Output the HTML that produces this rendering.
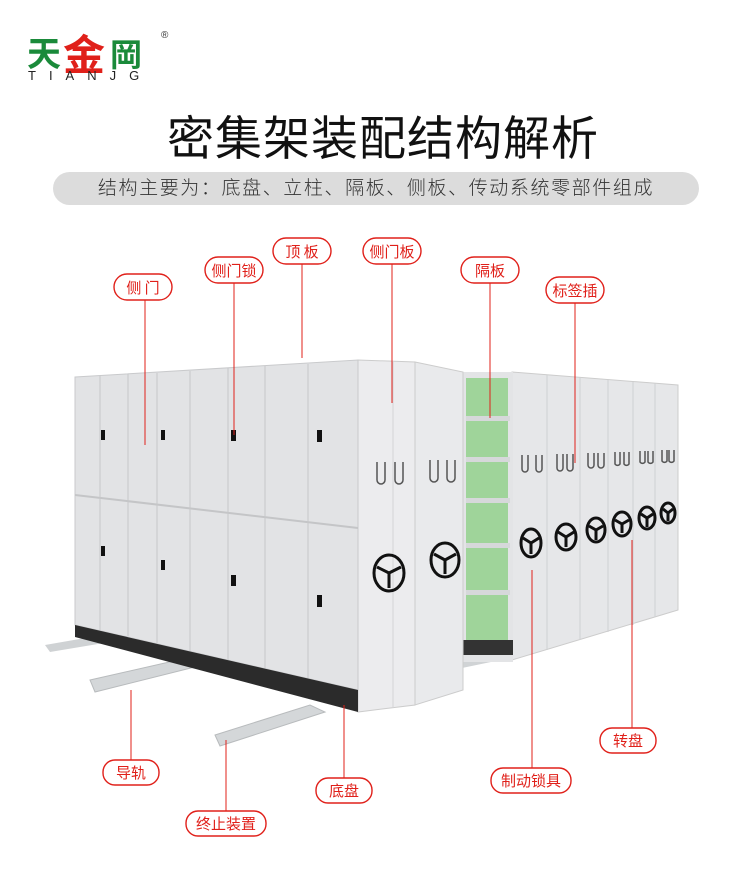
<!DOCTYPE html>
<html><head><meta charset="utf-8"><style>
html,body{margin:0;padding:0;background:#fff;}
body{width:750px;height:888px;position:relative;overflow:hidden;font-family:"Liberation Sans","Noto Sans CJK SC",sans-serif;}
.t{position:absolute;left:8px;width:750px;text-align:center;top:100px;font-size:47px;color:#111;letter-spacing:1px;font-family:"Liberation Sans","Noto Sans CJK SC",sans-serif;}
.sub{position:absolute;left:53px;top:172px;width:646px;height:33px;border-radius:17px;background:#dcdcdc;color:#333;font-size:19px;line-height:33px;text-align:center;letter-spacing:1.6px;font-weight:300;}
</style></head><body>
<svg width="750" height="888" style="position:absolute;left:0;top:0">
<text x="27" y="66" font-size="34" font-weight="bold" fill="#1a8a3a" font-family="Noto Sans CJK SC,sans-serif">天</text>
<text x="63" y="70" font-size="42" font-weight="bold" fill="#e0201a" font-family="Noto Sans CJK SC,sans-serif">金</text>
<text x="110" y="66" font-size="32" font-weight="bold" fill="#1a8a3a" font-family="Noto Sans CJK SC,sans-serif">岡</text>
<text x="161" y="38" font-size="10" fill="#333">®</text>
<text x="28" y="80" font-size="13" fill="#222" letter-spacing="13" font-family="Liberation Sans,sans-serif">TIANJG</text>

<polygon points="45,645 160,625 170,632 50,652" fill="#cfd2d4"/>
<polygon points="90,680 200,655 215,662 95,692" fill="#d4d7d9" stroke="#b8bbbd"/>
<polygon points="215,735 310,705 325,712 220,746" fill="#d4d7d9" stroke="#b8bbbd"/>
<polygon points="462,660 515,650 520,656 462,668" fill="#d0d3d5"/>

<polygon points="512,372 678,385 678,610 512,660" fill="#e6e7e9" stroke="#ccc"/>
<g stroke="#cfd0d2"><line x1="547" y1="375" x2="547" y2="650"/><line x1="580" y1="378" x2="580" y2="640"/><line x1="608" y1="380" x2="608" y2="632"/><line x1="633" y1="382" x2="633" y2="625"/><line x1="655" y1="383" x2="655" y2="617"/></g>
<rect x="463" y="372" width="50" height="290" fill="#e3e4e6"/>
<rect x="466" y="378" width="42" height="262" fill="#9fd49a"/>
<g fill="#d6d8da"><rect x="466" y="416" width="44" height="5"/><rect x="466" y="457" width="44" height="5"/><rect x="466" y="498" width="44" height="5"/><rect x="466" y="543" width="44" height="5"/><rect x="466" y="590" width="44" height="5"/></g>
<rect x="463" y="640" width="50" height="15" fill="#333"/>
<polygon points="358,360 415,362 415,705 358,712" fill="#ececee" stroke="#ccc"/>
<polygon points="415,362 463,372 463,690 415,705" fill="#e9eaec" stroke="#ccc"/>
<line x1="393" y1="362" x2="393" y2="708" stroke="#d4d4d6"/>
<polygon points="75,377 358,360 358,690 75,625" fill="#e2e3e5" stroke="#c9cacc"/>
<line x1="75" y1="495" x2="358" y2="528" stroke="#c4c5c7" stroke-width="2"/>
<g stroke="#c6c7c9"><line x1="100" y1="376" x2="100" y2="630"/><line x1="128" y1="374" x2="128" y2="636"/><line x1="157" y1="373" x2="157" y2="643"/><line x1="190" y1="371" x2="190" y2="651"/><line x1="228" y1="368" x2="228" y2="660"/><line x1="265" y1="366" x2="265" y2="668"/><line x1="308" y1="364" x2="308" y2="678"/></g>
<polygon points="75,625 358,690 358,712 75,637" fill="#2b2b2b"/>
<g fill="#111"><rect x="101" y="430" width="4" height="10"/><rect x="161" y="430" width="4" height="10"/><rect x="231" y="430" width="5" height="11"/><rect x="317" y="430" width="5" height="12"/><rect x="101" y="546" width="4" height="10"/><rect x="161" y="560" width="4" height="10"/><rect x="231" y="575" width="5" height="11"/><rect x="317" y="595" width="5" height="12"/></g>
<g fill="none" stroke="#555" stroke-width="1.5"><path d="M377,462 v18 a4,4 0 0 0 8,0 v-18"/><path d="M395,462 v18 a4,4 0 0 0 8,0 v-18"/><path d="M430,460 v18 a4,4 0 0 0 8,0 v-18"/><path d="M447,460 v18 a4,4 0 0 0 8,0 v-18"/>
<path d="M522,455 v14 a3,3 0 0 0 6,0 v-14"/><path d="M536,455 v14 a3,3 0 0 0 6,0 v-14"/><path d="M557,454 v14 a3,3 0 0 0 6,0 v-14"/><path d="M567,454 v14 a3,3 0 0 0 6,0 v-14"/><path d="M588,453 v12 a3,3 0 0 0 6,0 v-12"/><path d="M598,453 v12 a3,3 0 0 0 6,0 v-12"/><path d="M615,452 v12 a3,3 0 0 0 5,0 v-12"/><path d="M624,452 v12 a3,3 0 0 0 5,0 v-12"/><path d="M640,451 v11 a3,3 0 0 0 5,0 v-11"/><path d="M648,451 v11 a3,3 0 0 0 5,0 v-11"/><path d="M662,450 v11 a3,3 0 0 0 5,0 v-11"/><path d="M669,450 v11 a3,3 0 0 0 5,0 v-11"/></g>
<g fill="none" stroke="#111" stroke-width="3">
<ellipse cx="389" cy="573" rx="15" ry="18"/><ellipse cx="445" cy="560" rx="14" ry="17"/>
<ellipse cx="531" cy="543" rx="10" ry="14"/><ellipse cx="566" cy="537" rx="10" ry="13"/><ellipse cx="596" cy="530" rx="9" ry="12"/><ellipse cx="622" cy="524" rx="9" ry="12"/><ellipse cx="647" cy="518" rx="8" ry="11"/><ellipse cx="668" cy="513" rx="7" ry="10"/></g>
<g stroke="#111" stroke-width="3"><path d="M389,573 l-12,-6 M389,573 l12,-6 M389,573 v15"/><path d="M445,560 l-11,-6 M445,560 l11,-6 M445,560 v14"/><path d="M531,543 l-8,-5 M531,543 l8,-5 M531,543 v11"/><path d="M566,537 l-8,-5 M566,537 l8,-5 M566,537 v10"/><path d="M596,530 l-7,-4 M596,530 l7,-4 M596,530 v10"/><path d="M622,524 l-7,-4 M622,524 l7,-4 M622,524 v9"/><path d="M647,518 l-6,-4 M647,518 l6,-4 M647,518 v9"/><path d="M668,513 l-5,-4 M668,513 l5,-4 M668,513 v8"/></g>

<g stroke="#e0201a" stroke-width="1">
<line x1="145" y1="300" x2="145" y2="445"/><line x1="234" y1="283" x2="234" y2="435"/><line x1="302" y1="264" x2="302" y2="358"/><line x1="392" y1="264" x2="392" y2="403"/><line x1="490" y1="283" x2="490" y2="418"/><line x1="575" y1="303" x2="575" y2="463"/>
<line x1="632" y1="728" x2="632" y2="540"/><line x1="532" y1="768" x2="532" y2="570"/><line x1="344" y1="778" x2="344" y2="705"/><line x1="226" y1="811" x2="226" y2="740"/><line x1="131" y1="760" x2="131" y2="690"/></g>
<g fill="#fff" stroke="#e0201a" stroke-width="1.4">
<rect x="114" y="274" width="58" height="26" rx="13"/><rect x="205" y="257" width="58" height="26" rx="13"/><rect x="273" y="238" width="58" height="26" rx="13"/><rect x="363" y="238" width="58" height="26" rx="13"/><rect x="461" y="257" width="58" height="26" rx="13"/><rect x="546" y="277" width="58" height="26" rx="13"/>
<rect x="600" y="728" width="56" height="25" rx="12"/><rect x="491" y="768" width="80" height="25" rx="12"/><rect x="316" y="778" width="56" height="25" rx="12"/><rect x="186" y="811" width="80" height="25" rx="12"/><rect x="103" y="760" width="56" height="25" rx="12"/></g>
<g fill="#e0201a" font-size="15" text-anchor="middle" font-family="Noto Sans CJK SC,sans-serif">
<text x="143" y="293">侧 门</text><text x="234" y="276">侧门锁</text><text x="302" y="257">顶 板</text><text x="392" y="257">侧门板</text><text x="490" y="276">隔板</text><text x="575" y="296">标签插</text>
<text x="628" y="746">转盘</text><text x="531" y="786">制动锁具</text><text x="344" y="796">底盘</text><text x="226" y="829">终止装置</text><text x="131" y="778">导轨</text></g>
</svg>
<div class="t">密集架装配结构解析</div>
<div class="sub">结构主要为：底盘、立柱、隔板、侧板、传动系统零部件组成</div>
</body></html>
